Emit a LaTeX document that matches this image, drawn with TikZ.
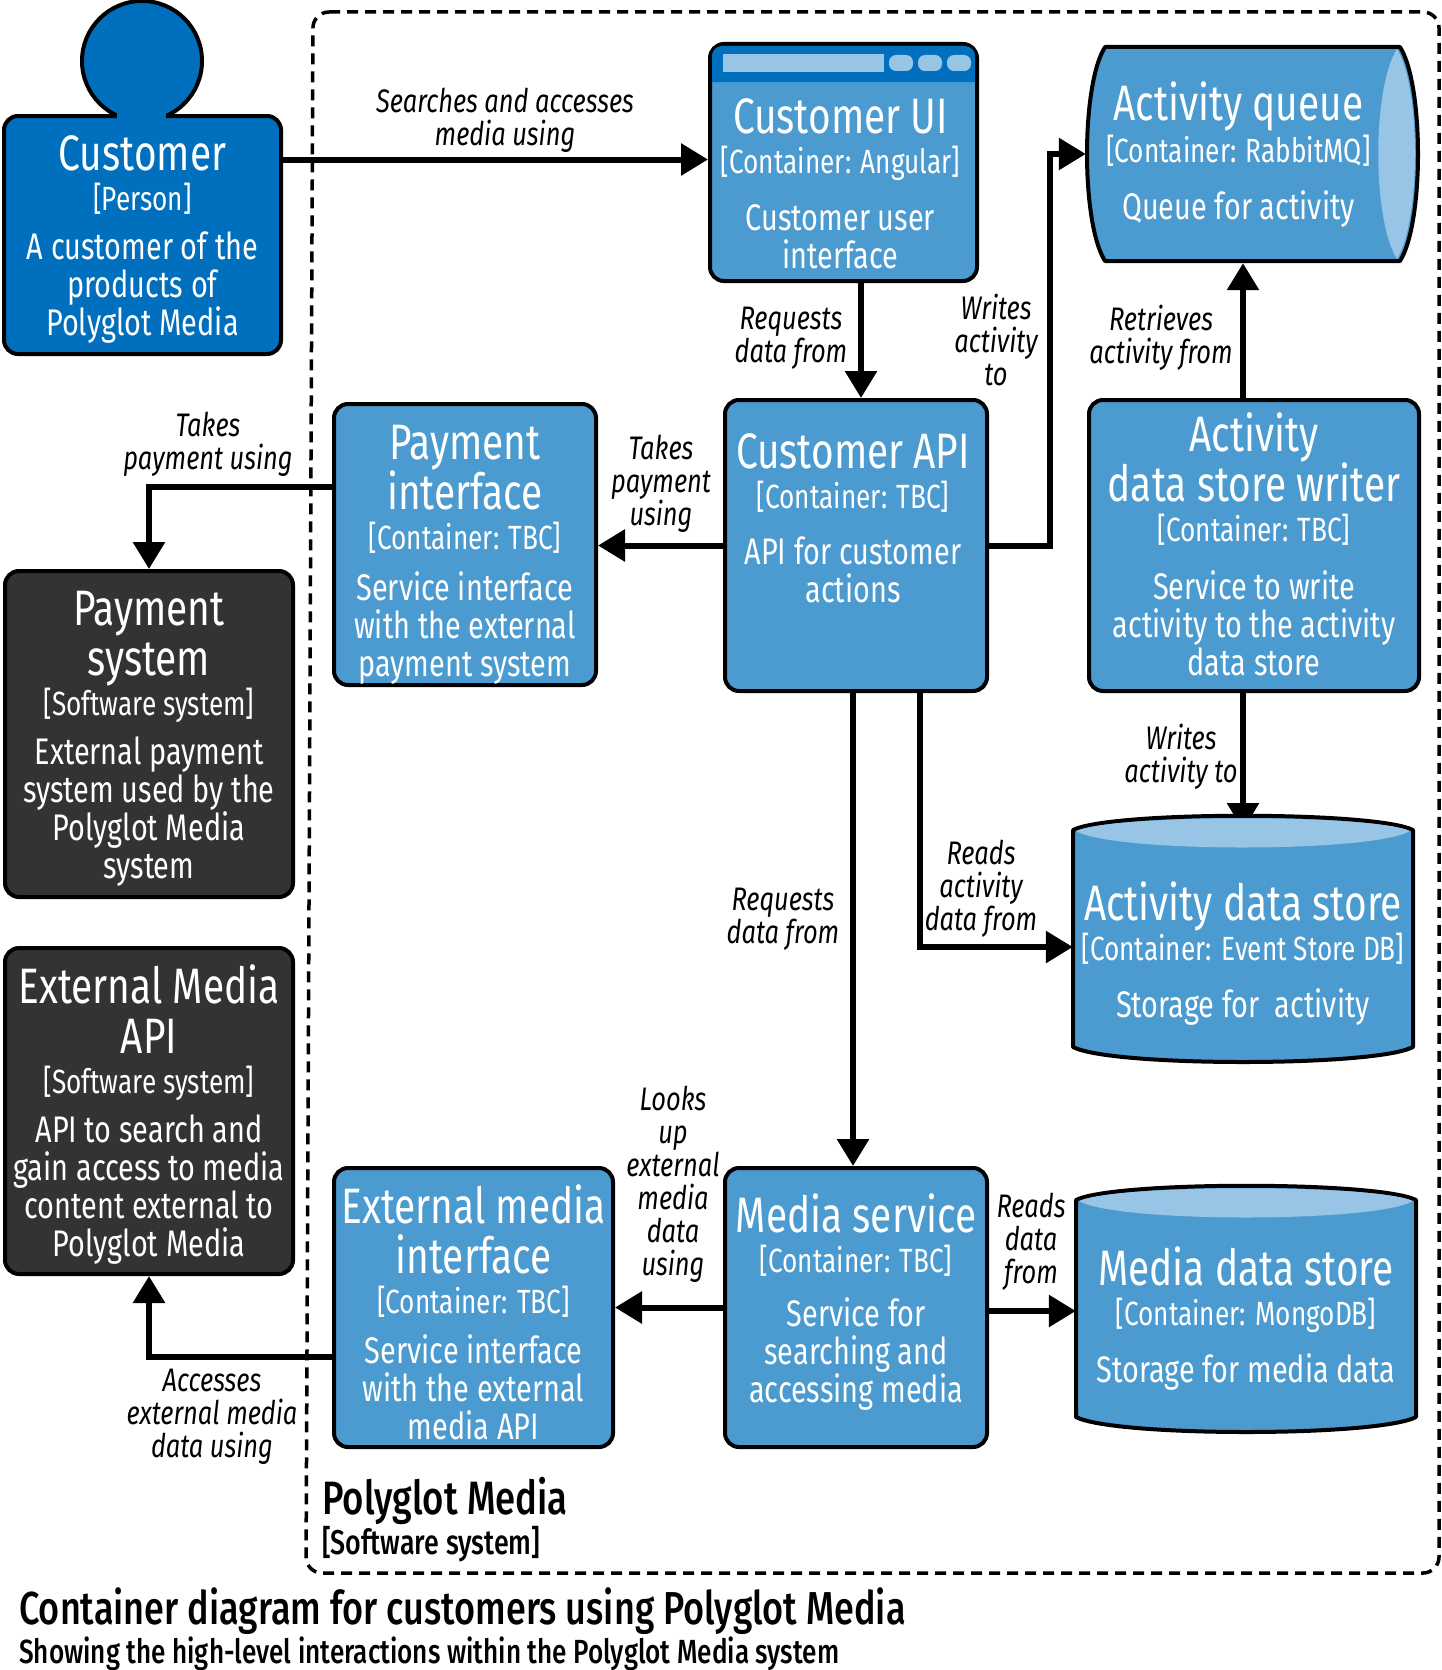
\documentclass[tikz,border=0pt]{standalone}
\usepackage{fontspec}
\setmainfont[FakeStretch=0.78]{Fira Sans}
\newfontfamily\medfont[FakeStretch=0.78]{Fira Sans Medium}
\usetikzlibrary{arrows.meta,backgrounds,calc,fit}
\definecolor{persblue}{HTML}{0070BE}
\definecolor{contblue}{HTML}{4B9BD0}
\definecolor{endblue}{HTML}{98C4E6}
\definecolor{extgray}{HTML}{333333}
\newcommand{\ttl}[1]{{\fontsize{49.8}{50}\selectfont #1}}
\newcommand{\tch}[1]{{\fontsize{33.6}{38}\selectfont #1}}
\newcommand{\cbox}[6]{
	\node[#2,fit={(#3)(#4)}] (#1) {};
	\node[boxtext] (#1txt) at ($(#1.north)+(#5)$) {#6};
	}
\newcommand{\cstore}[5]{
	\begin{scope}[shift={(#2,#3)}]
	\draw[edge,fill=contblue] (0,15) .. controls (38,-4) and (302,-4) .. (340,15) -- (340,232) .. controls (302,252) and (38,252) .. (0,232) -- cycle;
	\fill[endblue] (3,16) .. controls (40,-1) and (300,-1) .. (337,16) .. controls (300,38) and (40,38) .. (3,16) -- cycle;
	\node[fit={(0,0)(340,248)},inner sep=0pt] (#1) {};
	\end{scope}
	\node[boxtext] (#1txt) at ($(#1.north)+(0,#4)$) {#5};
	}
\begin{document}
\begin{tikzpicture}[
      x=1pt, y=-1pt,
      edge/.style={line width=4pt,line join=round},
      cont/.style={draw,edge,rounded corners=14pt,inner sep=0pt,fill=contblue},
      pers/.style={cont,fill=persblue},
      ext/.style={cont,fill=extgray},
      boxtext/.style={text=white,align=center,inner sep=0pt,anchor=north,font={\fontsize{37}{38}\selectfont\lineskiplimit=-100pt}},
      rel/.style={line width=6pt,-{Triangle[length=27pt,width=31pt]}},
      rellabel/.style={align=center,inner sep=0pt,yshift=-2.5pt,font={\itshape\fontsize{32.6}{33}\selectfont\lineskiplimit=-100pt}},
      boundary/.style={line width=3.5pt,dash pattern=on 11pt off 7pt,rounded corners=16pt},
      pill/.style={fill=endblue,rounded corners=7pt}
    ]
    \useasboundingbox (0,0) rectangle (1441,1670);
    % Draw the system boundary
    \draw[boundary] (313,12) -- (1439,12) -- (1439,1573) -- (306,1573) -- cycle;
    \node[anchor=west,inner sep=0pt,font=\medfont\fontsize{46.8}{50}\selectfont] (sysname) at (322,1501) {Polyglot Media};
    \node[anchor=west,inner sep=0pt,font=\medfont\fontsize{34.4}{38}\selectfont] (systype) at (322,1544) {[Software system]};
    % Draw the person
    \draw[edge,fill=persblue] (142,61) ellipse [x radius=60,y radius=60];
    \cbox{cust}{pers}{4,116}{281,354}{0,21}{\ttl{Customer}\\[2pt]\tch{[Person]}\\[11.5pt]A customer of the\\products of\\Polyglot Media}
    \fill[persblue] (117,105) rectangle (166,125);
    % Draw the customer UI and its window bar
    \cbox{custui}{cont}{710,44}{977,281}{-3,56}{\ttl{Customer UI}\\[2pt]\tch{[Container: Angular]}\\[19.5pt]Customer user\\interface}
    \fill[persblue,rounded corners=10pt] (712,82) -- (712,46) -- (975,46) [sharp corners] -- (975,82) -- cycle;
    \fill[endblue] (723,54) rectangle (884,72);
    \foreach \px in {889,918,947}
      \fill[pill] (\px,55) rectangle ++(24,16);
    % Draw the other containers
    \cbox{custapi}{cont}{725,400}{987,691}{-3,35}{\ttl{Customer API}\\[2pt]\tch{[Container: TBC]}\\[18.5pt]API for customer\\actions}
    \cbox{payif}{cont}{334,404}{596,685}{0,22.5}{\ttl{Payment}\\[12pt]\ttl{interface}\\[2pt]\tch{[Container: TBC]}\\[13pt]Service interface\\with the external\\payment system}
    \cbox{actwriter}{cont}{1089,400}{1419,691}{0,14}{\ttl{Activity}\\[12pt]\ttl{data store writer}\\[2pt]\tch{[Container: TBC]}\\[20.5pt]Service to write\\activity to the activity\\data store}
    \cbox{extif}{cont}{334,1168}{613,1447}{0,18}{\ttl{External media}\\[12pt]\ttl{interface}\\[2pt]\tch{[Container: TBC]}\\[12pt]Service interface\\with the external\\media API}
    \cbox{mediasvc}{cont}{725,1168}{987,1447}{0,27}{\ttl{Media service}\\[2pt]\tch{[Container: TBC]}\\[16pt]Service for\\searching and\\accessing media}
    % Draw the external systems
    \cbox{paysys}{ext}{5,571}{293,897}{0,22}{\ttl{Payment}\\[12pt]\ttl{system}\\[2pt]\tch{[Software system]}\\[11pt]External payment\\system used by the\\Polyglot Media\\system}
    \cbox{extapi}{ext}{5,948}{293,1274}{0,18}{\ttl{External Media}\\[12pt]\ttl{API}\\[2pt]\tch{[Software system]}\\[11pt]API to search and\\gain access to media\\content external to\\Polyglot Media}
    % Draw the queue
    \draw[edge,fill=contblue] (1105,47) -- (1400,47) .. controls (1424,85) and (1424,223) .. (1400,261) -- (1105,261) .. controls (1081,223) and (1081,85) .. (1105,47) -- cycle;
    \fill[endblue] (1397,49) .. controls (1372,88) and (1372,220) .. (1397,259) .. controls (1421,220) and (1421,88) .. (1397,49) -- cycle;
    \node[fit={(1086,45)(1419,263)},inner sep=0pt] (actq) {};
    \node[boxtext] (actqtxt) at ($(actq.north)+(-14,37)$) {\ttl{Activity queue}\\[4pt]\tch{[Container: RabbitMQ]}\\[18.5pt]Queue for activity};
    % Draw the data stores
    \cstore{actstore}{1073}{815}{67}{\ttl{Activity data store}\\[2pt]\tch{[Container: Event Store DB]}\\[18.5pt]Storage for\ \ activity}
    \cstore{mediastore}{1076}{1185}{62}{\ttl{Media data store}\\[2pt]\tch{[Container: MongoDB]}\\[18.5pt]Storage for media data}
    % Draw the relationships
    \draw[rel] ([yshift=3pt]cust.east |- custui.west) -- ([yshift=3pt]custui.west);
    \draw[rel] ([xshift=17.5pt]custui.south) -- ([xshift=5pt]custapi.north);
    \draw[rel] (custapi.west) -- (custapi.west -| payif.east);
    \draw[rel] (custapi.east) -- ++(61,0) |- (actq.west);
    \draw[rel] ([xshift=-11pt]actwriter.north) -- ([xshift=-11pt]actwriter.north |- actq.south);
    \begin{pgfonlayer}{background}
    \draw[rel] ([xshift=-11pt]actwriter.south) -- ([xshift=-11pt]actwriter.south |- 0,830);
    \end{pgfonlayer}
    \draw[rel] ([xshift=64pt]custapi.south) |- ([yshift=-8pt]actstore.west);
    \draw[rel] ([xshift=-3pt]custapi.south) -- ([xshift=-3pt]mediasvc.north);
    \draw[rel] (mediasvc.west) -- (mediasvc.west -| extif.east);
    \draw[rel] ([yshift=-2pt]mediasvc.east |- mediastore.west) -- ([yshift=-2pt]mediastore.west);
    \draw[rel] ([yshift=57.5pt]payif.west) -| (paysys.north);
    \draw[rel] ([yshift=-49.5pt]extif.west) -| (extapi.south);
    % Draw the relationship labels
    \node[rellabel] (l1) at (505,118) {Searches and accesses\\media using};
    \node[rellabel] (l2) at (791,336) {Requests\\data from};
    \node[rellabel] (l3) at (996,337) {Writes\\activity\\to};
    \node[rellabel] (l4) at (1161,335) {Retrieves\\activity from};
    \node[rellabel] (l5) at (208,442) {Takes\\payment using};
    \node[rellabel] (l6) at (661,481) {Takes\\payment\\using};
    \node[rellabel] (l7) at (1181,754) {Writes\\activity to};
    \node[rellabel] (l8) at (981,886) {Reads\\activity\\data from};
    \node[rellabel] (l9) at (783,917) {Requests\\data from};
    \node[rellabel] (l10) at (673,1182) {Looks\\up\\external\\media\\data\\using};
    \node[rellabel] (l11) at (1031,1239) {Reads\\data\\from};
    \node[rellabel] (l12) at (212,1414) {Accesses\\external media\\data using};
    % Name the diagram
    \node[anchor=west,inner sep=0pt,font=\medfont\fontsize{46.2}{48}\selectfont] (title) at (19,1611) {Container diagram for customers using Polyglot Media};
    \node[anchor=west,inner sep=0pt,font=\medfont\fontsize{33.5}{38}\selectfont] (subtitle) at (19,1654) {Showing the high-level interactions within the Polyglot Media system};
    \end{tikzpicture}
\end{document}
